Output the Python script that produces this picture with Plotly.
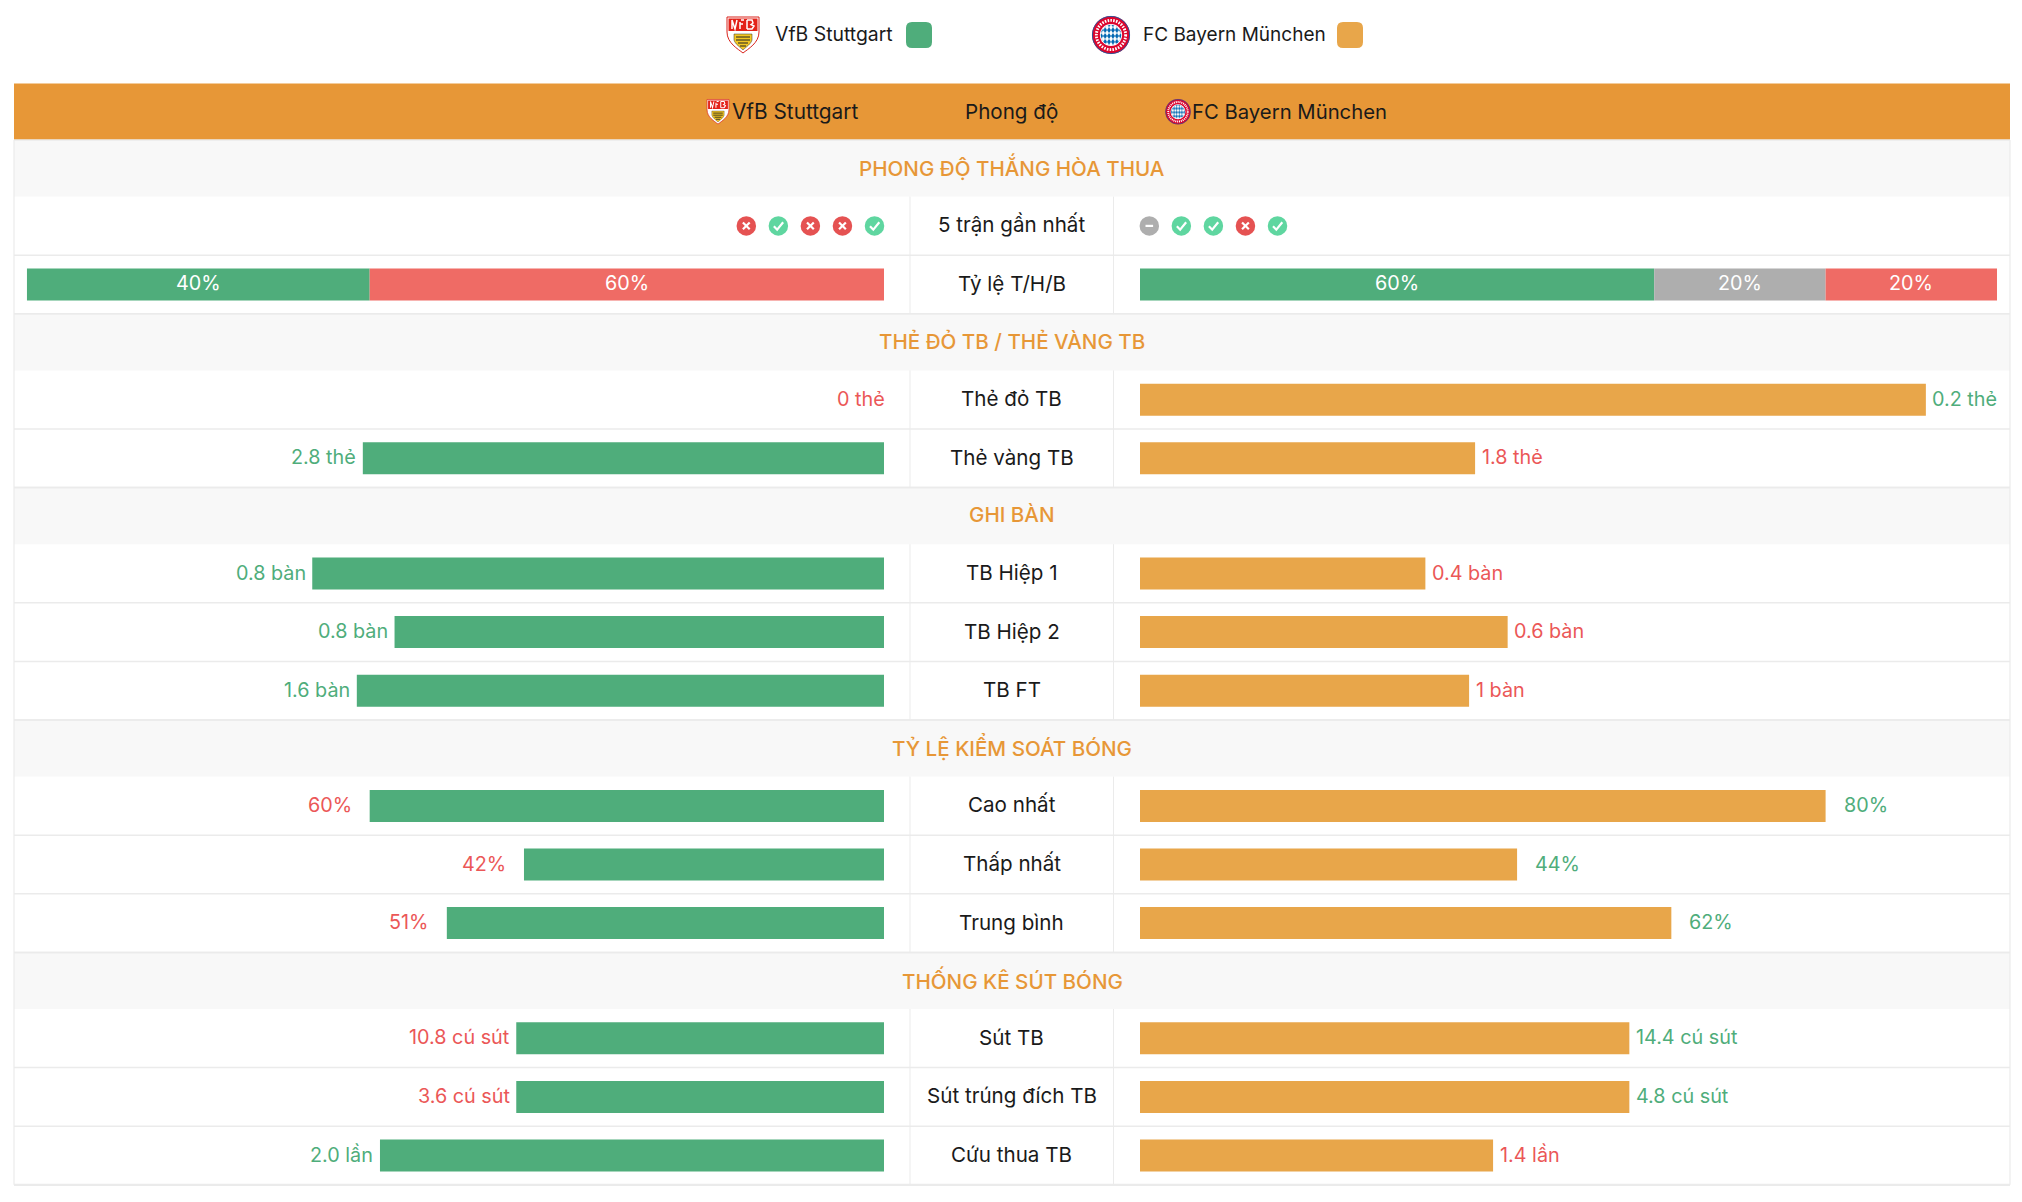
import base64
import plotly.graph_objects as go

# ---------- data ----------
home_team = "VfB Stuttgart"
away_team = "FC Bayern München"
center_header = "Phong độ"

section_titles = ["PHONG ĐỘ THẮNG HÒA THUA", "THẺ ĐỎ TB / THẺ VÀNG TB", "GHI BÀN",
                  "TỶ LỆ KIỂM SOÁT BÓNG", "THỐNG KÊ SÚT BÓNG"]
section_sizes = [2, 2, 3, 3, 3]

form_label = "5 trận gần nhất"
home_form = ["L", "W", "L", "L", "W"]
away_form = ["D", "W", "W", "L", "W"]

ratio_label = "Tỷ lệ T/H/B"
home_ratio = [40, 0, 60]
away_ratio = [60, 20, 20]

stat_labels = ["Thẻ đỏ TB", "Thẻ vàng TB", "TB Hiệp 1", "TB Hiệp 2", "TB FT",
               "Cao nhất", "Thấp nhất", "Trung bình",
               "Sút TB", "Sút trúng đích TB", "Cứu thua TB"]
home_values = [0, 2.8, 0.8, 0.8, 1.6, 60, 42, 51, 10.8, 3.6, 2.0]
away_values = [0.2, 1.8, 0.4, 0.6, 1.0, 80, 44, 62, 14.4, 4.8, 1.4]
home_text = ["0 thẻ", "2.8 thẻ", "0.8 bàn", "0.8 bàn", "1.6 bàn", "60%", "42%", "51%",
             "10.8 cú sút", "3.6 cú sút", "2.0 lần"]
away_text = ["0.2 thẻ", "1.8 thẻ", "0.4 bàn", "0.6 bàn", "1 bàn", "80%", "44%", "62%",
             "14.4 cú sút", "4.8 cú sút", "1.4 lần"]
# bar lengths, % of the half-table width
home_bar = [0, 60.8, 66.7, 57.1, 61.5, 60, 42, 51, 42.9, 42.9, 58.8]
away_bar = [91.7, 39.1, 33.3, 42.9, 38.4, 80, 44, 62, 57.1, 57.1, 41.2]

# ---------- style / layout ----------
W, H = 2022, 1202
FONT = "Inter, Roboto, sans-serif"
GREEN, ORANGE, HEAD = "#4FAD7B", "#E8A64A", "#E79737"
RED_BAR, GRAY_BAR = "#EF6B65", "#AEAEAE"
RED_TXT, ICON_GREEN, ICON_RED = "#EB5757", "#5FD6A0", "#E55252"
LINE, SEC_BG, INK = "#EBEBEB", "#F8F8F8", "#1A1A1A"
T_L, T_R = 14, 2010
C_L, C_R = 910, 1113.5
L0, L1 = 26.8, 884
R0, R1 = 1140, 1997
TOP, HEAD_H, SEC_H, ROW_H = 83.5, 56.5, 56.6, 58.6
BAR_H = 32
TS = 20.6
VS = 19.8


def crest_stuttgart():
    s = ('<svg xmlns="http://www.w3.org/2000/svg" viewBox="0 0 34 38" width="136" height="152">'
         '<path d="M1 1H33V16C33 27 22 33 17 37C12 33 1 27 1 16Z" fill="#fff" stroke="#D9231B" stroke-width="1"/>'
         '<path d="M2.5 2.5H31.5V15H2.5Z" fill="#E32219"/>'
         '<path d="M6 4V13M6 4L9 13L11 4M14 6V13M14 8H17M15 4H18M21 4V13M21 4H26L27 7L25 8.5L28 10L26 13H21"'
         ' stroke="#fff" stroke-width="1.5" fill="none"/>'
         '<path d="M8 18H26L26 24C25 28 20 31 17 34C14 31 9 28 8 24Z" fill="#F3C623" stroke="#333" stroke-width=".5"/>'
         '<path d="M10 21H24M10 24H24M12 27H22M14 30H20" stroke="#222" stroke-width="1.2"/>'
         '</svg>')
    return "data:image/svg+xml;base64," + base64.b64encode(s.encode()).decode()


def crest_bayern():
    s = ('<svg xmlns="http://www.w3.org/2000/svg" viewBox="0 0 40 40" width="160" height="160">'
         '<defs><pattern id="d" width="4" height="6" patternUnits="userSpaceOnUse">'
         '<rect width="4" height="6" fill="#fff"/><path d="M2 0L4 3L2 6L0 3Z" fill="#0066B2"/></pattern></defs>'
         '<circle cx="20" cy="20" r="19.5" fill="#DC052D"/>'
         '<circle cx="20" cy="20" r="19.1" fill="none" stroke="#0066B2" stroke-width=".8"/>'
         '<circle cx="20" cy="20" r="15" fill="none" stroke="#fff" stroke-width="3" stroke-dasharray="1.6 1.3"/>'
         '<circle cx="20" cy="20" r="11.4" fill="#fff"/>'
         '<circle cx="20" cy="20" r="10.6" fill="url(#d)"/>'
         '</svg>')
    return "data:image/svg+xml;base64," + base64.b64encode(s.encode()).decode()


# ---------- row geometry derived from the table structure ----------
section_spans, stat_y, form_y, ratio_y = [], [], None, None
y = TOP + HEAD_H
row_lines = []
for si, n in enumerate(section_sizes):
    section_spans.append((y, y + SEC_H))
    y += SEC_H
    for r in range(n):
        c = y + ROW_H / 2
        if si == 0 and r == 0:
            form_y = c
        elif si == 0:
            ratio_y = c
        else:
            stat_y.append(c)
        y += ROW_H
        row_lines.append((y, y - ROW_H))
BOTTOM = y

shapes, ann = [], []


def rect(x0, y0, x1, y1, color):
    shapes.append(dict(type="rect", xref="x3", yref="y", x0=x0, x1=x1, y0=y0, y1=y1,
                       fillcolor=color, line=dict(width=0), layer="below"))


def line(x0, y0, x1, y1, w=1.5, color=LINE):
    shapes.append(dict(type="line", xref="x3", yref="y", x0=x0, x1=x1, y0=y0, y1=y1,
                       line=dict(color=color, width=w), layer="below"))


def text(x, yy, s, color=INK, size=TS, anchor="center", xref="x3", xshift=0, yshift=0, weight=None):
    f = dict(family=FONT, size=size, color=color)
    if weight:
        f["weight"] = weight
    ann.append(dict(x=x, y=yy, xref=xref, yref="y", text=s, showarrow=False, xanchor=anchor,
                    yanchor="middle", xshift=xshift, yshift=yshift, font=f))


# table furniture
rect(T_L, TOP, T_R, TOP + HEAD_H, HEAD)
for (a, b), title in zip(section_spans, section_titles):
    rect(T_L, a, T_R, b, SEC_BG)
    line(T_L, a, T_R, a)
    text((T_L + T_R) / 2, (a + b) / 2, title, color=HEAD, weight=500, yshift=1)
for b, a in row_lines:
    line(T_L, b, T_R, b)
    line(C_L, a, C_L, b, 1)
    line(C_R, a, C_R, b, 1)
line(T_L, TOP + HEAD_H, T_L, BOTTOM, 1.2)
line(T_R, TOP + HEAD_H, T_R, BOTTOM, 1.2)
line(T_L, BOTTOM, T_R, BOTTOM, 2.2)

# legend
lg_y = 35
text(772.5, lg_y, home_team, size=19.4, anchor="left", yshift=1)
text(1141, lg_y, away_team, size=19, anchor="left", yshift=1)
for x0, col in ((906, GREEN), (1337, ORANGE)):
    r = 6
    x1, y0, y1 = x0 + 26, lg_y - 13, lg_y + 13
    shapes.append(dict(type="path", xref="x3", yref="y", layer="above",
                       path=f"M{x0+r},{y0}L{x1-r},{y0}Q{x1},{y0} {x1},{y0+r}L{x1},{y1-r}Q{x1},{y1} {x1-r},{y1}"
                            f"L{x0+r},{y1}Q{x0},{y1} {x0},{y1-r}L{x0},{y0+r}Q{x0},{y0} {x0+r},{y0}Z",
                       fillcolor=col, line=dict(width=0)))

# header
hy = TOP + HEAD_H / 2
text(729.5, hy, home_team, size=20.8, anchor="left")
text((C_L + C_R) / 2, hy, center_header)
text(1189.5, hy, away_team, size=20.3, anchor="left")

images = [
    dict(source=crest_stuttgart(), xref="x3", yref="y", x=743, y=lg_y, sizex=36, sizey=38,
         xanchor="center", yanchor="middle", sizing="contain", layer="above"),
    dict(source=crest_bayern(), xref="x3", yref="y", x=1111, y=lg_y, sizex=39, sizey=39,
         xanchor="center", yanchor="middle", sizing="contain", layer="above"),
    dict(source=crest_stuttgart(), xref="x3", yref="y", x=718, y=hy, sizex=24, sizey=26,
         xanchor="center", yanchor="middle", sizing="contain", layer="above"),
    dict(source=crest_bayern(), xref="x3", yref="y", x=1178, y=hy, sizex=26, sizey=26,
         xanchor="center", yanchor="middle", sizing="contain", layer="above"),
]

# centre labels
mid = (C_L + C_R) / 2
text(mid, form_y, form_label, yshift=1)
text(mid, ratio_y, ratio_label, yshift=1)
for yy, s in zip(stat_y, stat_labels):
    text(mid, yy, s, yshift=1)

fig = go.Figure()

# form icons
FORM_COL = {"W": ICON_GREEN, "L": ICON_RED, "D": GRAY_BAR}
home_x = [746.3 + 32.05 * i for i in range(len(home_form))]
away_x = [1149.3 + 32.05 * i for i in range(len(away_form))]
xs = home_x + away_x
forms = home_form + away_form
fig.add_trace(go.Scatter(x=xs, y=[form_y] * len(xs), xaxis="x3", yaxis="y", mode="markers",
                         marker=dict(size=19.5, color=[FORM_COL[f] for f in forms], line=dict(width=0)),
                         hoverinfo="skip"))
for cx, f in zip(xs, forms):
    cy = form_y
    if f == "W":
        p = f"M{cx-4.5},{cy+0.3}L{cx-1.2},{cy+3.8}L{cx+4.8},{cy-3.6}"
    elif f == "L":
        p = f"M{cx-3.4},{cy-3.4}L{cx+3.4},{cy+3.4}M{cx-3.4},{cy+3.4}L{cx+3.4},{cy-3.4}"
    else:
        p = f"M{cx-3.8},{cy}L{cx+3.8},{cy}"
    shapes.append(dict(type="path", xref="x3", yref="y", path=p, layer="above",
                       line=dict(color="white", width=2.2)))

# T/H/B stacked bars: both sides stack left to right on screen
seg_colors = [GREEN, GRAY_BAR, RED_BAR]
for axis, ratios, sign, start in (("x", home_ratio, -1, 100), ("x2", away_ratio, 1, 0)):
    base = start
    for v, col in zip(ratios, seg_colors):
        if v > 0:
            fig.add_trace(go.Bar(x=[sign * v], y=[ratio_y], base=[base], width=BAR_H, orientation="h",
                                 xaxis=axis, yaxis="y", marker=dict(color=col, line=dict(width=0)),
                                 hoverinfo="skip"))
            text(base + sign * v / 2, ratio_y, f"{v}%", color="white", size=VS, xref=axis, yshift=2)
        base += sign * v

# stat bars
fig.add_trace(go.Bar(x=home_bar, y=stat_y, width=BAR_H, orientation="h", xaxis="x", yaxis="y",
                     marker=dict(color=GREEN, line=dict(width=0)), hoverinfo="skip"))
fig.add_trace(go.Bar(x=away_bar, y=stat_y, width=BAR_H, orientation="h", xaxis="x2", yaxis="y",
                     marker=dict(color=ORANGE, line=dict(width=0)), hoverinfo="skip"))
for yy, hv, av, hb, ab, ht, at in zip(stat_y, home_values, away_values, home_bar, away_bar, home_text, away_text):
    gap = 16 if ht.endswith("%") else 4.5
    text(hb, yy, ht, color=GREEN if hv > av else RED_TXT, size=VS, anchor="right", xref="x",
         xshift=-(gap if hb > 0 else -3), yshift=1)
    text(ab, yy, at, color=GREEN if av > hv else RED_TXT, size=VS, anchor="left", xref="x2",
         xshift=gap, yshift=1)

fig.update_layout(
    width=W, height=H, margin=dict(l=0, r=0, t=0, b=0, pad=0),
    paper_bgcolor="white", plot_bgcolor="rgba(0,0,0,0)",
    showlegend=False, barmode="overlay",
    shapes=shapes, annotations=ann, images=images,
    xaxis=dict(domain=[L0 / W, L1 / W], range=[100, 0], visible=False, anchor="y", fixedrange=True),
    xaxis2=dict(domain=[R0 / W, R1 / W], range=[0, 100], visible=False, anchor="y", fixedrange=True),
    xaxis3=dict(domain=[0, 1], range=[0, W], visible=False, anchor="y", fixedrange=True),
    yaxis=dict(domain=[0, 1], range=[H, 0], visible=False, anchor="x3", fixedrange=True),
)

fig.write_html("out.html", config=dict(displayModeBar=False),
               post_script="document.body.style.margin='0';document.body.style.overflow='hidden';")
